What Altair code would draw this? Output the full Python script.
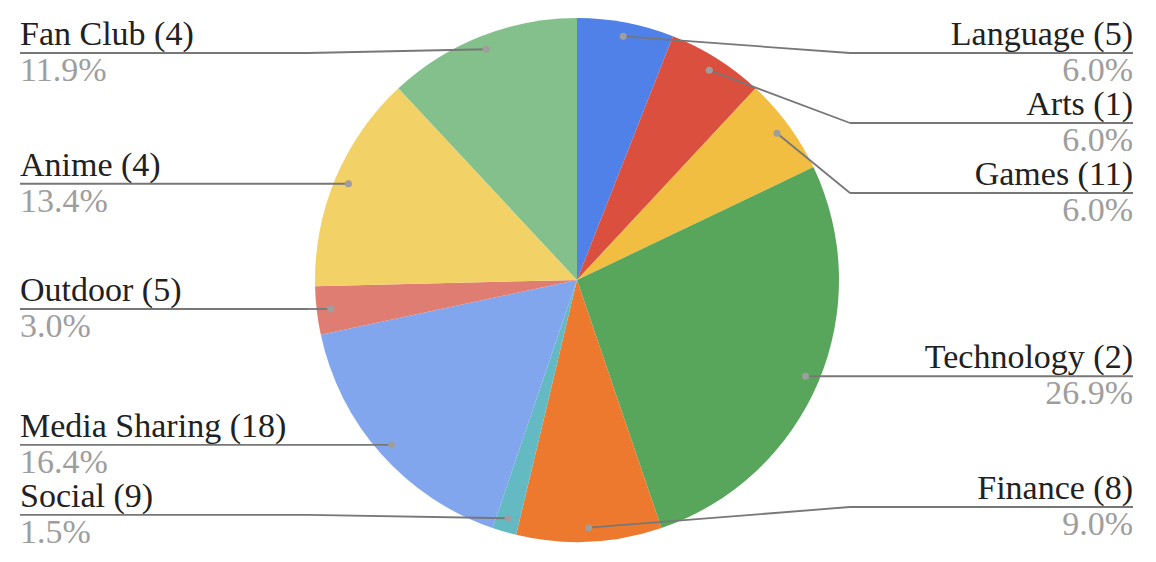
import math
import altair as alt
import pandas as pd

# ---- data ----
categories = ["Language", "Arts", "Games", "Technology", "Finance", "Social",
              "Media Sharing", "Outdoor", "Anime", "Fan Club"]
label_counts = [5, 1, 11, 2, 8, 9, 18, 5, 4, 4]
values = [4, 4, 4, 18, 6, 1, 11, 2, 9, 8]
colors = ["#4F81E8", "#DB4F3E", "#F1BE42", "#58A65C", "#EC792E", "#63BAC2",
          "#82A6EE", "#E07D73", "#F2D166", "#84C08B"]

# ---- layout constants ----
W, H = 1138, 544
CX, CY = W / 2, H / 2
R = 262
DOT_R = 248
LABEL_TOP, LABEL_BOTTOM, LABEL_GAP = 45, 499, 70
RIGHT_EDGE, LEFT_EDGE = 1125, 12
FONT = "Liberation Serif"
FS = 34

total = sum(values)
rows = []
cum = 0
for i, (c, n, v) in enumerate(zip(categories, label_counts, values)):
    mid = (cum + v / 2) / total * 2 * math.pi
    cum += v
    dx = CX + DOT_R * math.sin(mid)
    dy = CY - DOT_R * math.cos(mid)
    side = "right" if mid < math.pi else "left"
    rows.append(dict(idx=i, cat=c, value=v, name=f"{c} ({n})",
                     pct=f"{v / total * 100:.1f}%", dx=dx, dy=dy, side=side))


def place(items):
    ys = [min(max(r["dy"], LABEL_TOP), LABEL_BOTTOM) for r in items]
    for k in range(1, len(ys)):
        ys[k] = max(ys[k], ys[k - 1] + LABEL_GAP)
    for k in range(len(ys) - 2, -1, -1):
        ys[k] = min(ys[k], ys[k + 1] - LABEL_GAP)
    for r, y in zip(items, ys):
        r["ly"] = y


right = sorted([r for r in rows if r["side"] == "right"], key=lambda r: r["dy"])
left = sorted([r for r in rows if r["side"] == "left"], key=lambda r: r["dy"])
place(right)
place(left)
for r in right:
    r["ex"] = CX + R + 11
    r["tx"] = RIGHT_EDGE
for r in left:
    r["ex"] = CX - R - 7
    r["tx"] = LEFT_EDGE
for r in rows:
    r["ny"] = r["ly"] - 8
    r["py"] = r["ly"] + 28

df = pd.DataFrame(rows)
df_r = df[df.side == "right"]
df_l = df[df.side == "left"]

xs = alt.Scale(domain=[0, W], range=[0, W])
ys = alt.Scale(domain=[0, H], range=[0, H])

pie = alt.Chart(df).mark_arc(outerRadius=R).encode(
    theta=alt.Theta("value:Q", stack=True),
    order=alt.Order("idx:Q"),
    color=alt.Color("cat:N", scale=alt.Scale(domain=categories, range=colors), legend=None),
)

seg1 = alt.Chart(df).mark_rule(color="#777777", strokeWidth=1.8).encode(
    x=alt.X("dx:Q", scale=xs, axis=None), y=alt.Y("dy:Q", scale=ys, axis=None),
    x2="ex:Q", y2="ly:Q")
seg2 = alt.Chart(df).mark_rule(color="#777777", strokeWidth=1.8).encode(
    x=alt.X("ex:Q", scale=xs, axis=None), y=alt.Y("ly:Q", scale=ys, axis=None),
    x2="tx:Q", y2="ly:Q")
dots = alt.Chart(df).mark_circle(color="#9E9E9E", opacity=1, size=50).encode(
    x=alt.X("dx:Q", scale=xs, axis=None), y=alt.Y("dy:Q", scale=ys, axis=None))


def texts(d, align):
    name = alt.Chart(d).mark_text(align=align, baseline="alphabetic", font=FONT,
                                  fontSize=FS, color="#212121").encode(
        x=alt.X("tx:Q", scale=xs, axis=None), y=alt.Y("ny:Q", scale=ys, axis=None),
        text="name:N")
    pct = alt.Chart(d).mark_text(align=align, baseline="alphabetic", font=FONT,
                                 fontSize=FS, color="#9E9E9E").encode(
        x=alt.X("tx:Q", scale=xs, axis=None), y=alt.Y("py:Q", scale=ys, axis=None),
        text="pct:N")
    return [name, pct]


chart = alt.layer(pie, seg1, seg2, dots, *texts(df_r, "right"), *texts(df_l, "left")).properties(
    width=W, height=H, padding=0, autosize="none",
).configure_view(stroke=None)

chart.save("out.html", embed_options={"renderer": "svg", "actions": False})
